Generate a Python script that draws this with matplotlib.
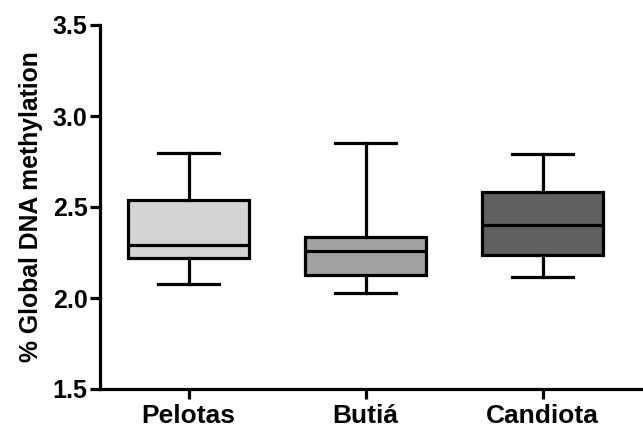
import matplotlib
matplotlib.use("Agg")
import matplotlib.pyplot as plt

plt.rcParams['font.family'] = ['Liberation Sans', 'DejaVu Sans']
plt.rcParams['font.weight'] = 'bold'

# Box-plot summary per site (% global DNA methylation)
sites = ["Pelotas", "Butiá", "Candiota"]
whisker_low = [2.075, 2.028, 2.118]
q1 = [2.222, 2.124, 2.236]
median = [2.292, 2.258, 2.401]
q3 = [2.538, 2.334, 2.584]
whisker_high = [2.797, 2.854, 2.790]
box_colors = ["#d4d4d4", "#a2a2a2", "#616161"]

yticks = [1.5, 2.0, 2.5, 3.0, 3.5]

stats = []
for i, name in enumerate(sites):
    stats.append(dict(label=name, whislo=whisker_low[i], q1=q1[i], med=median[i],
                      q3=q3[i], whishi=whisker_high[i], fliers=[]))

fig = plt.figure(figsize=(6.43, 4.28), dpi=100)
ax = fig.add_axes([100 / 643, 39 / 428, 543 / 643, 364 / 428])

lw = 2.3
positions = list(range(1, len(sites) + 1))
bp = ax.bxp(stats, positions=positions, widths=0.684, patch_artist=True,
            showfliers=False,
            boxprops=dict(linewidth=lw, edgecolor="black"),
            medianprops=dict(linewidth=lw, color="black"),
            whiskerprops=dict(linewidth=lw, color="black"),
            capprops=dict(linewidth=lw, color="black"))
for patch, c in zip(bp["boxes"], box_colors):
    patch.set_facecolor(c)

ax.set_xlim(0.5, 0.5 + 543 / 177)
ax.set_ylim(1.5, 3.5)
ax.set_yticks(yticks)
ax.set_yticklabels([f"{v:.1f}" for v in yticks])
ax.set_xticks(positions)
ax.set_xticklabels(sites)

for s in ["top", "right"]:
    ax.spines[s].set_visible(False)
for s in ["left", "bottom"]:
    ax.spines[s].set_linewidth(lw)

ax.tick_params(axis="both", width=lw, length=7, pad=2)
ax.tick_params(axis="y", labelsize=18)
ax.tick_params(axis="x", labelsize=19, pad=4)
ax.set_ylabel("% Global DNA methylation", fontsize=17.8, fontweight="bold", labelpad=7)

fig.savefig("out.png", dpi=100)
